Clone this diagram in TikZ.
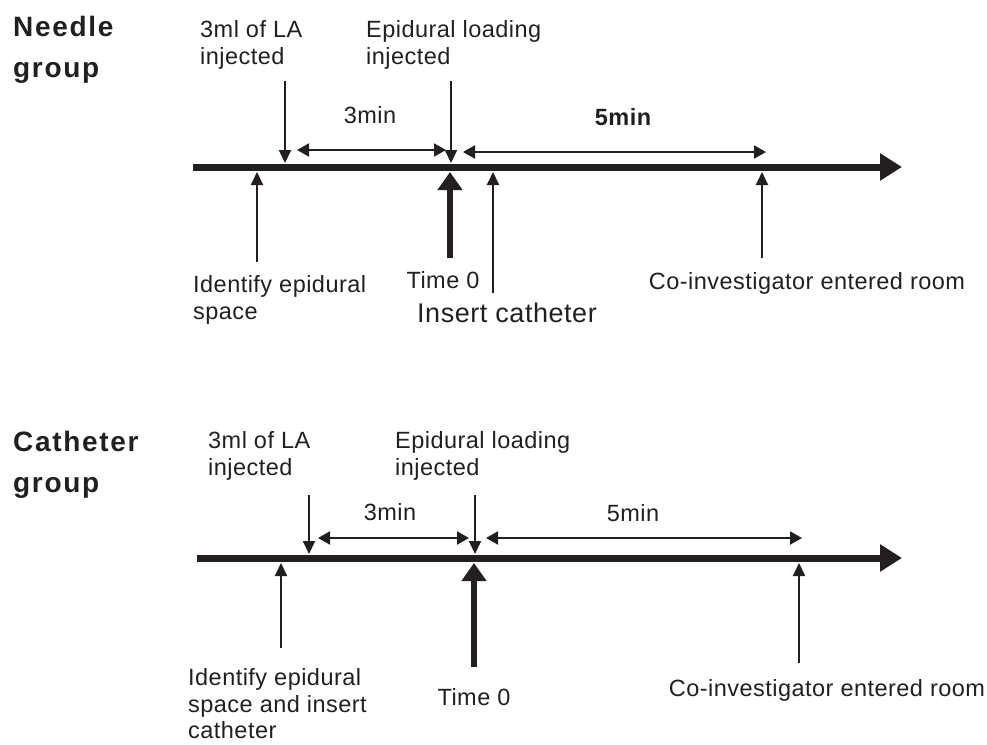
\documentclass[tikz,border=0pt]{standalone}
\usepackage{fontspec}
\setmainfont{Liberation Sans}
\newfontfamily\lblfont[LetterSpace=2]{Liberation Sans}
\newfontfamily\grpfont[LetterSpace=6]{Liberation Sans}
\usetikzlibrary{arrows.meta}
\definecolor{ink}{HTML}{231F20}
\tikzset{
  lbl/.style={inner sep=0pt,text=ink,font=\lblfont\fontsize{23.5}{26.5}\selectfont,align=left},
  lblc/.style={lbl,align=center},
  grp/.style={inner sep=0pt,text=ink,font=\grpfont\fontsize{28}{41}\selectfont\bfseries,align=left},
  axis/.style={draw=ink,line width=7pt,-{Triangle[length=22pt,width=26pt]}},
  thin/.style={draw=ink,line width=2pt,-{Triangle[length=13pt,width=12pt]}},
  thick0/.style={draw=ink,line width=6pt,-{Triangle[length=18pt,width=24pt]}},
  span/.style={draw=ink,line width=2pt,{Triangle[length=12pt,width=13pt]}-{Triangle[length=12pt,width=13pt]}}
}
\begin{document}
\begin{tikzpicture}[x=1pt,y=-1pt]
\useasboundingbox (0,0) rectangle (987,744);
% ---------------- Needle group ----------------
\node[grp,anchor=west] (ng) at (13,50) {Needle\\group};
\node[lbl,anchor=west] (nla) at (200,45) {3ml of LA\\injected};
\node[lbl,anchor=west] (nep) at (366,45) {Epidural loading\\injected};
\node[lblc] (n3) at (370,115) {3min};
\node[lblc,font=\lblfont\fontsize{23.5}{26.5}\selectfont\bfseries] (n5) at (623,117) {5min};
\node[lbl,anchor=west] (nid) at (193,300) {Identify epidural\\space};
\node[lblc] (nt0) at (443,280) {Time 0};
\node[lblc,font=\lblfont\fontsize{27}{30}\selectfont] (nic) at (507,313) {Insert catheter};
\node[lblc] (nco) at (807,283) {Co-investigator entered room};
\coordinate (nA0) at (193,167); \coordinate (nA1) at (902,167);
\coordinate (nLAt) at (285,81);  \coordinate (nLAb) at (285,163);
\coordinate (nEPt) at (451,81);  \coordinate (nEPb) at (451,163);
\coordinate (n3a) at (297,150);  \coordinate (n3b) at (446,150);
\coordinate (n5a) at (463,152);  \coordinate (n5b) at (766,152);
\coordinate (nIDb) at (257,262); \coordinate (nIDt) at (257,172);
\coordinate (nT0b) at (450,258); \coordinate (nT0t) at (450,172);
\coordinate (nICb) at (493,293); \coordinate (nICt) at (493,172);
\coordinate (nCOb) at (762,258); \coordinate (nCOt) at (762,172);
\draw[axis] (nA0) -- (nA1);
\draw[thin] (nLAt) -- (nLAb);
\draw[thin] (nEPt) -- (nEPb);
\draw[span] (n3a) -- (n3b);
\draw[span] (n5a) -- (n5b);
\draw[thin] (nIDb) -- (nIDt);
\draw[thick0] (nT0b) -- (nT0t);
\draw[thin] (nICb) -- (nICt);
\draw[thin] (nCOb) -- (nCOt);
% ---------------- Catheter group ----------------
\node[grp,anchor=west] (cg) at (13,465) {Catheter\\group};
\node[lbl,anchor=west] (cla) at (208,456) {3ml of LA\\injected};
\node[lbl,anchor=west] (cep) at (395,456) {Epidural loading\\injected};
\node[lblc] (c3) at (390,512) {3min};
\node[lblc] (c5) at (633,513) {5min};
\node[lbl,anchor=west] (cid) at (188,704) {Identify epidural\\space and insert\\catheter};
\node[lblc] (ct0) at (474,697) {Time 0};
\node[lblc] (cco) at (827,690) {Co-investigator entered room};
\coordinate (cA0) at (197,558); \coordinate (cA1) at (902,558);
\coordinate (cLAt) at (309,495); \coordinate (cLAb) at (309,554);
\coordinate (cEPt) at (475,495); \coordinate (cEPb) at (475,554);
\coordinate (c3a) at (318,538);  \coordinate (c3b) at (469,538);
\coordinate (c5a) at (486,538);  \coordinate (c5b) at (802,538);
\coordinate (cIDb) at (281,648); \coordinate (cIDt) at (281,563);
\coordinate (cT0b) at (474,667); \coordinate (cT0t) at (474,563);
\coordinate (cCOb) at (799,663); \coordinate (cCOt) at (799,563);
\draw[axis] (cA0) -- (cA1);
\draw[thin] (cLAt) -- (cLAb);
\draw[thin] (cEPt) -- (cEPb);
\draw[span] (c3a) -- (c3b);
\draw[span] (c5a) -- (c5b);
\draw[thin] (cIDb) -- (cIDt);
\draw[thick0] (cT0b) -- (cT0t);
\draw[thin] (cCOb) -- (cCOt);
\end{tikzpicture}
\end{document}
